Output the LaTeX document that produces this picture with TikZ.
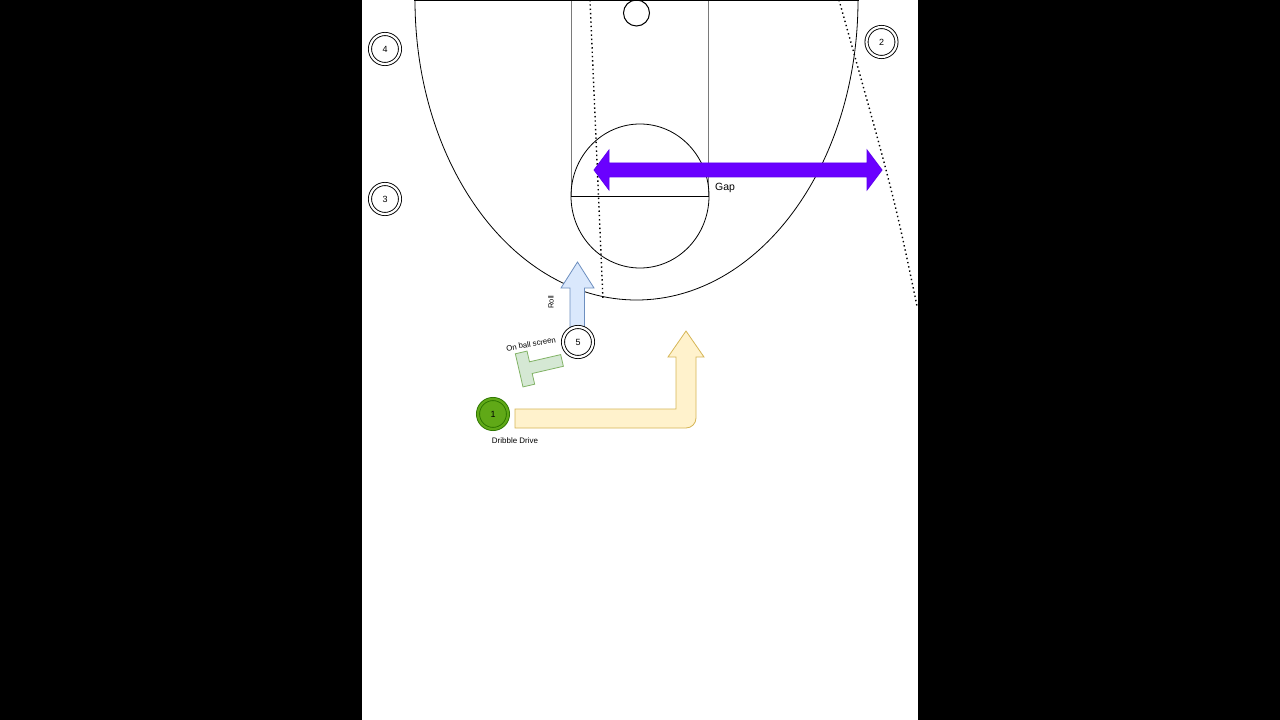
\documentclass[tikz,border=0pt]{standalone}
\usepackage{fontspec}
\setmainfont{Liberation Sans}
\definecolor{purp}{HTML}{6A00FF}
\definecolor{purpline}{HTML}{5E00EE}
\definecolor{bluef}{HTML}{DAE8FC}
\definecolor{bluel}{HTML}{6C8EBF}
\definecolor{yelf}{HTML}{FFF2CC}
\definecolor{yell}{HTML}{D6B656}
\definecolor{grnf}{HTML}{D5E8D4}
\definecolor{grnl}{HTML}{82B366}
\definecolor{pgf}{HTML}{60A917}
\definecolor{pgl}{HTML}{2D7600}
\definecolor{lanegray}{HTML}{7A7A7A}
\begin{document}
\begin{tikzpicture}[x=1bp,y=-1bp,
  player/.style={circle, draw=black, line width=0.9bp, double=white, double distance=2.2bp,
    fill=white, minimum size=30bp, inner sep=0pt, font=\fontsize{9}{10}\selectfont},
  lbl/.style={inner sep=0pt, font=\fontsize{8}{9}\selectfont},
  court/.style={draw=black, line width=0.8bp},
  lane/.style={draw=lanegray, line width=1bp},
  dotline/.style={line width=1.4bp, dash pattern=on 1.4bp off 2.9bp},
  blockarrow/.style={line width=0.8bp, line join=miter}]
\useasboundingbox (0,0) rectangle (1280,720);
\fill[black] (0,0) rectangle (1280,720);
\fill[white] (362,0) rectangle (918,720);
% court
\draw[lane] (571,0) -- (571,196);
\draw[lane] (708.5,0) -- (708.5,196);
\draw[court] (571,196) -- (708.5,196);
\draw[court] (640,196) ellipse [x radius=69, y radius=72];
\draw[court] (415,0) arc[start angle=180, end angle=0, x radius=221.5, y radius=300];
\draw[draw=black, line width=1.4bp] (414,0.7) -- (859,0.7);
\node[circle, draw=black, line width=1bp, minimum size=26bp, inner sep=0pt] (basket) at (636.5,13) {};
% dotted lines
\draw[dotline] (590,0) -- (603,300);
\draw[dotline] (839,0) .. controls (894,196) .. (917,306);
% gap arrow
\draw[blockarrow, fill=purp, draw=purpline]
  (594,170) -- (609,150) -- (609,163) -- (867,163) -- (867,150) -- (882,170)
  -- (867,190) -- (867,177) -- (609,177) -- (609,190) -- cycle;
\node[lbl, anchor=west, font=\fontsize{10.5}{12}\selectfont] (gap) at (715,187.5) {Gap};
% roll arrow
\draw[blockarrow, fill=bluef, draw=bluel]
  (570,327) -- (570,288) -- (561,288) -- (577.5,262) -- (594,288) -- (584.5,288) -- (584.5,327) -- cycle;
\node[lbl, rotate=90, font=\fontsize{7.5}{9}\selectfont] (roll) at (551,302) {Roll};
% screen
\begin{scope}[shift={(525,369)}, rotate=13]
\draw[blockarrow, fill=grnf, draw=grnl]
  (-6,-17) -- (6,-17) -- (6,-6) -- (38,-6) -- (38,6) -- (6,6) -- (6,17) -- (-6,17) -- cycle;
\end{scope}
\node[lbl, rotate=10, font=\fontsize{7.8}{9}\selectfont] (obs) at (531,344) {On ball screen};
% drive arrow
\draw[blockarrow, fill=yelf, draw=yell]
  (515,409) -- (676,409) -- (676,357) -- (668,357) -- (686,331) -- (704,357) -- (696,357)
  -- (696,418) .. controls (696,423.5) and (691.5,428) .. (686,428) -- (515,428) -- cycle;
\node[lbl] (dd) at (515,441) {Dribble Drive};
% players
\node[player] (p4) at (385,49) {4};
\node[player] (p3) at (385,199) {3};
\node[player] (p2) at (881.5,42) {2};
\node[player] (p5) at (578,342) {5};
\node[player, draw=pgl, double=pgf, fill=pgf] (p1) at (493,414) {1};
\end{tikzpicture}
\end{document}
